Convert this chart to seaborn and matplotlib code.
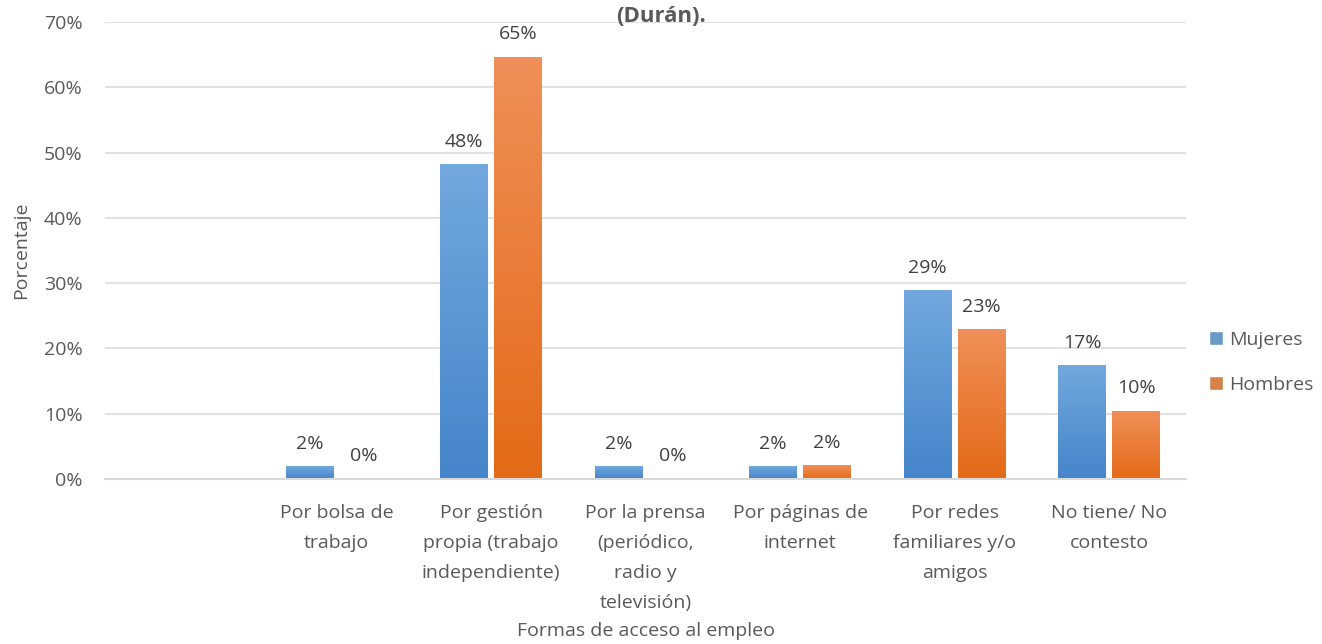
import numpy as np
import pandas as pd
import matplotlib
matplotlib.use("Agg")
import matplotlib.pyplot as plt
import seaborn as sns

# Datos
categorias = [
    "",
    "Por bolsa de\ntrabajo",
    "Por gestión\npropia (trabajo\nindependiente)",
    "Por la prensa\n(periódico,\nradio y\ntelevisión)",
    "Por páginas de\ninternet",
    "Por redes\nfamiliares y/o\namigos",
    "No tiene/ No\ncontesto",
]
mujeres = [1.9, 48.1, 1.9, 1.9, 28.8, 17.3]
hombres = [0.0, 64.6, 0.0, 2.0, 22.9, 10.4]
series = ["Mujeres", "Hombres"]

colores = {"Mujeres": "#5B9BD5", "Hombres": "#ED7D31"}
gradientes = {
    "Mujeres": ("#72A8DE", "#4585CA"),
    "Hombres": ("#F08F58", "#E36A17"),
}

df = pd.DataFrame({
    "categoria": categorias[1:] * 2,
    "serie": ["Mujeres"] * 6 + ["Hombres"] * 6,
    "valor": mujeres + hombres,
})

sns.set_style("white")
plt.rcParams["font.family"] = ["Open Sans", "DejaVu Sans"]

texto = "#595959"
fs = 14
fig = plt.figure(figsize=(13.22, 6.44), dpi=100)
ax = fig.add_axes([0.0794, 0.256, 0.818, 0.710])

sns.barplot(
    data=df, x="categoria", y="valor", hue="serie",
    order=categorias, hue_order=series, palette=colores,
    width=0.7, gap=0.12, ax=ax, legend=True,
)

# degradado vertical en las barras
for cont, serie in zip(ax.containers, series):
    top, bot = gradientes[serie]
    cmap = matplotlib.colors.LinearSegmentedColormap.from_list(serie, [bot, top])
    for p in cont.patches:
        x0, y0 = p.get_x(), p.get_y()
        w, h = p.get_width(), p.get_height()
        if h <= 0:
            continue
        p.set_facecolor("none")
        p.set_edgecolor("none")
        grad = np.linspace(0, 1, 100).reshape(-1, 1)
        ax.imshow(grad, cmap=cmap, origin="lower", aspect="auto",
                  extent=(x0, x0 + w, y0, y0 + h), zorder=2)
    ax.bar_label(cont, fmt="{:.0f}%", padding=10, fontsize=fs, color="#404040")

ax.set_xlim(-0.5, len(categorias) - 0.5)
ax.set_ylim(0, 70)

ax.set_yticks(range(0, 71, 10))
ax.set_yticklabels([f"{v}%" for v in range(0, 71, 10)])
ax.yaxis.grid(True, color="#D9D9D9", linewidth=1.1)
ax.set_axisbelow(True)
for s in ["top", "right", "left"]:
    ax.spines[s].set_visible(False)
ax.spines["bottom"].set_color("#D9D9D9")
ax.spines["bottom"].set_linewidth(1.5)
ax.tick_params(axis="both", length=0, labelsize=fs, labelcolor=texto)
ax.tick_params(axis="x", pad=18)
ax.tick_params(axis="y", pad=16)
for t in ax.get_xticklabels():
    t.set_linespacing(1.85)
    t.set_verticalalignment("top")

ax.set_xlabel("Formas de acceso al empleo", fontsize=fs, color=texto, labelpad=7)
ax.set_ylabel("Porcentaje", fontsize=fs, color=texto, labelpad=10)

fig.text(0.5, 0.975, "(Durán).", ha="center", va="center",
         fontsize=16, fontweight="bold", color=texto)

leg = ax.legend(loc="center left", bbox_to_anchor=(1.005, 0.255), frameon=False,
                fontsize=fs, handlelength=0.72, handleheight=0.72,
                handletextpad=0.3, labelspacing=1.4)
for t in leg.get_texts():
    t.set_color(texto)

fig.savefig("out.png", dpi=100)
